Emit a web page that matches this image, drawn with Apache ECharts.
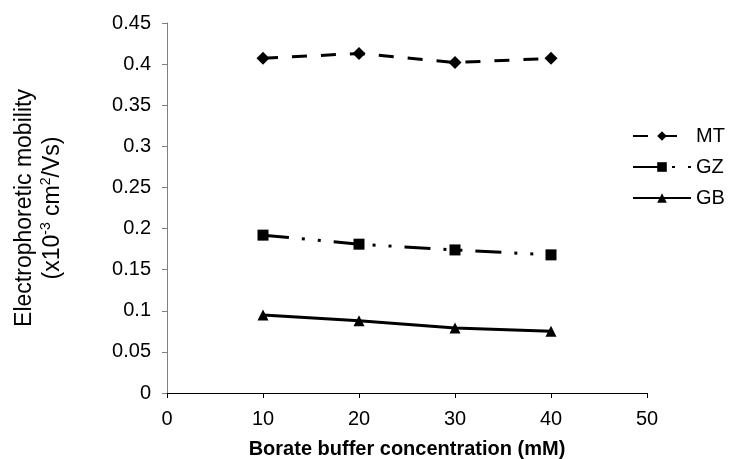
<!DOCTYPE html>
<html>
<head>
<meta charset="utf-8">
<script src="https://cdn.jsdelivr.net/npm/echarts@6/dist/echarts.min.js"></script>
<style>
  html, body { margin: 0; padding: 0; background: #fff; }
  #chart { width: 739px; height: 459px; }
</style>
</head>
<body>
<div id="chart"></div>
<script>
// concentrations (mM)
const concentrations = [10, 20, 30, 40];
// electrophoretic mobility (x10^-3 cm2/Vs)
const mtValues = [0.407, 0.413, 0.402, 0.407];
const gzValues = [0.192, 0.181, 0.174, 0.168];
const gbValues = [0.095, 0.088, 0.079, 0.075];

const toPairs = (vals) => concentrations.map((c, i) => [c, vals[i]]);

const chart = echarts.init(document.getElementById('chart'));
const font = 'Liberation Sans, Arial, sans-serif';

chart.setOption({
  animation: false,
  textStyle: { fontFamily: font, color: '#000' },
  grid: { left: 167, right: 92, top: 23, bottom: 66, outerBoundsMode: 'none', containLabel: false },
  legend: {
    orient: 'vertical',
    left: 632,
    top: 126,
    padding: 0,
    itemGap: 11,
    itemWidth: 58,
    itemHeight: 12,
    textStyle: { fontSize: 20, color: '#000', fontFamily: font },
    data: ['MT', 'GZ', 'GB'],
  },
  xAxis: {
    type: 'value',
    min: 0,
    max: 50,
    interval: 10,
    name: 'Borate buffer concentration (mM)',
    nameLocation: 'middle',
    nameGap: 46,
    nameTextStyle: { fontSize: 20, fontWeight: 'bold', color: '#000' },
    axisLine: { lineStyle: { color: '#000', width: 1 } },
    axisTick: { length: 5, lineStyle: { color: '#000' } },
    axisLabel: { fontSize: 20, color: '#000', margin: 16 },
    splitLine: { show: false },
  },
  yAxis: {
    type: 'value',
    min: 0,
    max: 0.45,
    interval: 0.05,
    name: '{a|Electrophoretic mobility}\n{a|(x10}{s|-3}{a| cm}{s|2}{a|/Vs)}',
    nameLocation: 'middle',
    nameGap: 100,
    nameTextStyle: {
      color: '#000',
      rich: {
        a: { fontSize: 23, lineHeight: 28, color: '#000', fontFamily: font },
        s: { fontSize: 14, lineHeight: 28, verticalAlign: 'top', padding: [0, 0, 9, 0], color: '#000', fontFamily: font },
      },
    },
    axisLine: { show: true, lineStyle: { color: '#808080', width: 1 } },
    axisTick: { show: true, length: 5, lineStyle: { color: '#808080' } },
    axisLabel: { fontSize: 20, color: '#000', margin: 16 },
    splitLine: { show: false },
  },
  series: [
    {
      name: 'MT',
      type: 'line',
      data: toPairs(mtValues),
      symbol: 'diamond',
      symbolSize: 13,
      itemStyle: { color: '#000' },
      lineStyle: { color: '#000', width: 3, type: [15, 14] },
    },
    {
      name: 'GZ',
      type: 'line',
      data: toPairs(gzValues),
      symbol: 'rect',
      symbolSize: 11,
      itemStyle: { color: '#000' },
      lineStyle: { color: '#000', width: 3, type: [26, 13, 3, 13, 3, 13] },
    },
    {
      name: 'GB',
      type: 'line',
      data: toPairs(gbValues),
      symbol: 'triangle',
      symbolSize: 11,
      itemStyle: { color: '#000' },
      lineStyle: { color: '#000', width: 3 },
    },
  ],
});
</script>
</body>
</html>
